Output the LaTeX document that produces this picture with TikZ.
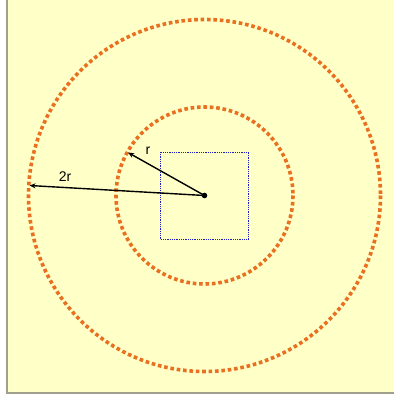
\documentclass[tikz,border=0pt]{standalone}
\usepackage{fontspec}
\setmainfont{Liberation Sans}
\usetikzlibrary{arrows.meta}
\definecolor{bg}{RGB}{255,255,200}
\definecolor{dotor}{RGB}{232,112,32}
\definecolor{frame}{RGB}{160,160,140}
\definecolor{sqblue}{RGB}{30,30,200}
\tikzset{
  orcirc/.style={draw=dotor, line width=3.6pt, dash pattern=on 3.6pt off 2.8pt},
  bluesq/.style={draw=sqblue, line width=1pt, dash pattern=on 1pt off 0.8pt},
  radarrow/.style={draw=black, line width=1.4pt, -{Stealth[length=6pt,width=5pt]}},
  lbl/.style={font=\fontsize{14}{16}\selectfont, inner sep=0pt}
}
\begin{document}
\begin{tikzpicture}[x=1pt,y=-1pt]
\useasboundingbox (0,0) rectangle (394,396);
\fill[bg] (7,0) rectangle (394,393);
\draw[frame, line width=1.5pt] (7,0) -- (7,393) -- (394,393);
\coordinate (c) at (204.5,195.5);
\draw[orcirc] (c) circle[radius=176];
\draw[orcirc] (c) circle[radius=88.5];
\draw[bluesq] (160.5,152) rectangle (248.5,239.5);
\coordinate (r1) at (128,152.5);
\coordinate (r2) at (29.5,185.5);
\draw[radarrow] (c) -- (r1);
\draw[radarrow] (c) -- (r2);
\fill (c) circle[radius=2.8];
\node[lbl] (lr) at (148,151) {r};
\node[lbl] (l2r) at (65,177) {2r};
\end{tikzpicture}
\end{document}
